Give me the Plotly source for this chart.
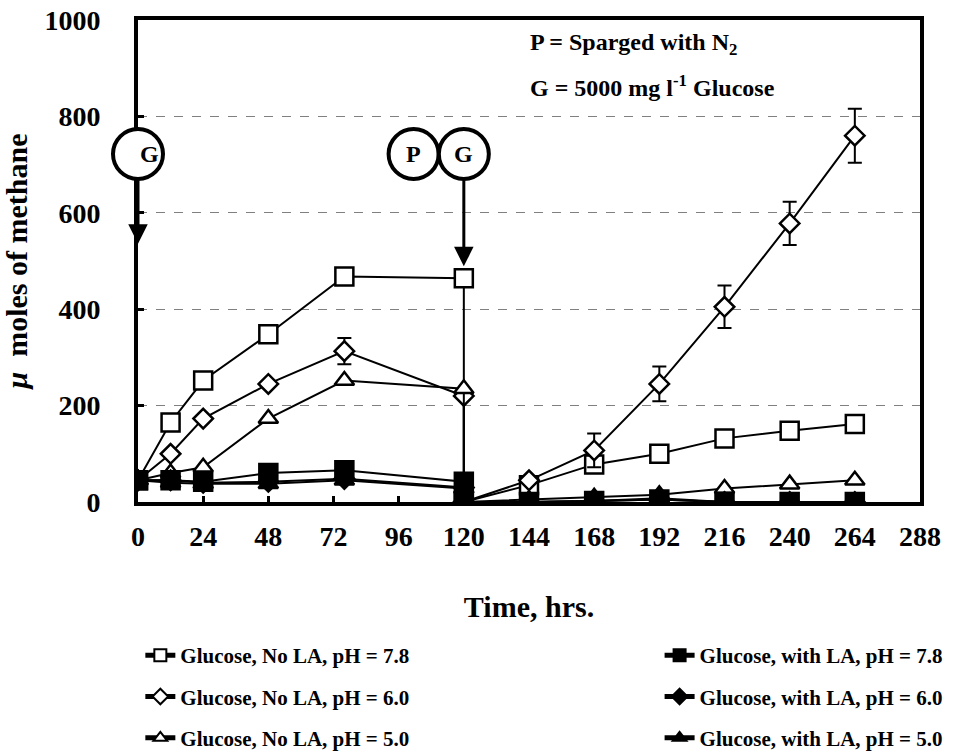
import plotly.graph_objects as go

# ---- data ----
time_hrs = [0, 12, 24, 48, 76, 120, 120, 144, 168, 192, 216, 240, 264]
noLA_78 = [45, 165, 252, 348, 468, 464, 0, 35, 78, 100, 132, 148, 162]
noLA_60 = [45, 100, 173, 245, 313, 220, 0, 45, 107, 245, 405, 578, 760]
noLA_60_err = [None, None, None, None, 27, None, None, None, 35, 36, 44, 45, 56]
noLA_50 = [45, 60, 72, 173, 252, 235, 0, 5, 10, 15, 28, 37, 45]
LA_78 = [45, 45, 42, 60, 66, 42, 0, 0, 2, 5, 0, 0, 0]
LA_60 = [45, 45, 40, 42, 48, 30, 0, 0, 2, 5, 0, 0, 0]
LA_50 = [45, 40, 38, 38, 45, 28, 0, 0, 2, 8, 0, 0, 0]

names = {
    "noLA_78": "Glucose, No LA, pH = 7.8",
    "noLA_60": "Glucose, No LA, pH = 6.0",
    "noLA_50": "Glucose, No LA, pH = 5.0",
    "LA_78": "Glucose, with LA, pH = 7.8",
    "LA_60": "Glucose, with LA, pH = 6.0",
    "LA_50": "Glucose, with LA, pH = 5.0",
}

x_ticks = [0, 24, 48, 72, 96, 120, 144, 168, 192, 216, 240, 264, 288]
y_ticks = [0, 200, 400, 600, 800, 1000]

# event markers (time, label)
events = [(0, "G"), (101.5, "P"), (120, "G")]
event_y = 722
arrow_tips = [(0, 536), (120, 489)]
arrow_start = 670

FONT = "Liberation Serif"

fig = go.Figure()

def add(y, key, symbol, fill, size, legend, err=None):
    kw = {}
    if err is not None:
        kw["error_y"] = dict(type="data", array=err, visible=True, color="black",
                             thickness=2, width=7)
    fig.add_trace(go.Scatter(
        x=time_hrs, y=y, name=names[key], mode="lines+markers",
        line=dict(color="black", width=2),
        marker=dict(symbol=symbol, size=size, color=fill,
                    line=dict(color="black", width=2.5)),
        legend=legend, legendgroup=key, showlegend=True, **kw))

add(noLA_78, "noLA_78", "square", "white", 18, "legend")
add(noLA_60, "noLA_60", "diamond", "white", 15, "legend", noLA_60_err)
add(noLA_50, "noLA_50", "triangle-up", "white", 17, "legend")
add(LA_78, "LA_78", "square", "black", 18, "legend2")
add(LA_60, "LA_60", "diamond", "black", 15, "legend2")
add(LA_50, "LA_50", "triangle-up", "black", 17, "legend2")

# event circles
for t, lab in events:
    fig.add_shape(type="circle", xref="paper", yref="y",
                  xsizemode="pixel", ysizemode="pixel",
                  xanchor=t / 288, yanchor=event_y,
                  x0=-25, x1=25, y0=-25, y1=25,
                  line=dict(color="black", width=4), fillcolor="white", layer="above")
    fig.add_annotation(x=t / 288, xref="paper", y=event_y, yref="y", text=lab,
                       showarrow=False,
                       font=dict(family=FONT, size=24, color="black", weight="bold"))

for t, tip in arrow_tips:
    fig.add_annotation(x=t, y=tip, xref="x", yref="y", ax=t, ay=arrow_start,
                       axref="x", ayref="y", showarrow=True, text="",
                       arrowhead=2, arrowsize=1.3, arrowwidth=3, arrowcolor="black")

fig.add_annotation(x=(528 - 138) / 782, y=(502 - 44) / 482, xref="paper", yref="paper",
                   xanchor="left", yanchor="middle", showarrow=False,
                   text="P = Sparged with N<sub>2</sub>",
                   font=dict(family=FONT, size=24, color="black", weight="bold"))
fig.add_annotation(x=(528 - 138) / 782, y=(502 - 86) / 482, xref="paper", yref="paper",
                   xanchor="left", yanchor="middle", showarrow=False,
                   text="G = 5000 mg l<sup>-1</sup> Glucose",
                   font=dict(family=FONT, size=24, color="black", weight="bold"))

legend_style = dict(orientation="v", traceorder="grouped", tracegroupgap=11,
                    itemsizing="constant",
                    font=dict(family=FONT, size=21, color="black", weight="bold"),
                    bgcolor="rgba(0,0,0,0)", yanchor="top", xanchor="left")

fig.update_layout(
    width=963, height=755,
    margin=dict(l=138, r=43, t=20, b=253, autoexpand=False),
    plot_bgcolor="white", paper_bgcolor="white",
    font=dict(family=FONT, color="black"),
    legend=dict(x=0.003, y=-0.276, **legend_style),
    legend2=dict(x=0.667, y=-0.276, **legend_style),
    xaxis=dict(range=[0, 288], tickvals=x_ticks, ticktext=[str(v) for v in x_ticks],
               showline=True, linecolor="black", linewidth=4, mirror=True,
               ticks="inside", ticklen=6, tickwidth=3, tickcolor="black",
               showgrid=False, zeroline=False, ticklabelstandoff=6,
               tickfont=dict(family=FONT, size=28, color="black", weight="bold"),
               title=dict(text="Time, hrs.", standoff=46,
                          font=dict(family=FONT, size=30, color="black", weight="bold"))),
    yaxis=dict(range=[0, 1000], tickvals=y_ticks, ticktext=[str(v) for v in y_ticks],
               showline=True, linecolor="black", linewidth=4, mirror=True,
               ticks="inside", ticklen=6, tickwidth=3, tickcolor="black",
               showgrid=True, gridcolor="#808080", gridwidth=1, griddash="dash",
               zeroline=False, ticklabelstandoff=28,
               tickfont=dict(family=FONT, size=28, color="black", weight="bold"),
               title=dict(text="<i>μ</i>  moles of methane", standoff=12,
                          font=dict(family=FONT, size=30, color="black", weight="bold"))),
)

fig.write_html("out.html")
